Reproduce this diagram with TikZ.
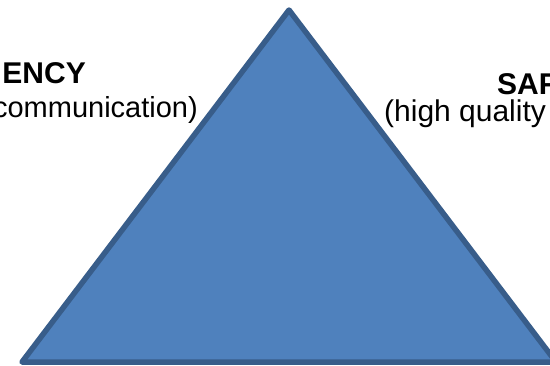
\documentclass[tikz,border=0pt]{standalone}
\usepackage{fontspec}
\setmainfont{Liberation Sans}
\definecolor{triblue}{HTML}{4F81BD}
\definecolor{triedge}{HTML}{385D8A}
\tikzset{labeltext/.style={inner sep=0pt, font=\fontsize{30}{34}\selectfont}}

\begin{document}
\begin{tikzpicture}[x=1pt,y=-1pt]
\useasboundingbox (0,0) rectangle (550,365);
\clip (0,0) rectangle (550,365);
%
\coordinate (top) at (289,10);
\coordinate (left) at (22,362);
\coordinate (right) at (556,362);
\draw[triedge, fill=triblue, line width=5.5pt, line join=round] (top) -- (left) -- (right) -- cycle;
%
\node[labeltext, anchor=base east] (effhead) at (86,83) {\bfseries ENCY};
\node[labeltext, font=\fontsize{29}{34}\selectfont, anchor=base east] (effsub) at (198,117) {communication)};
\node[labeltext, anchor=base west] (safhead) at (497,94) {\bfseries SAF};
\node[labeltext, anchor=base west] (safsub) at (384,121) {(high quality};
\end{tikzpicture}
\end{document}
